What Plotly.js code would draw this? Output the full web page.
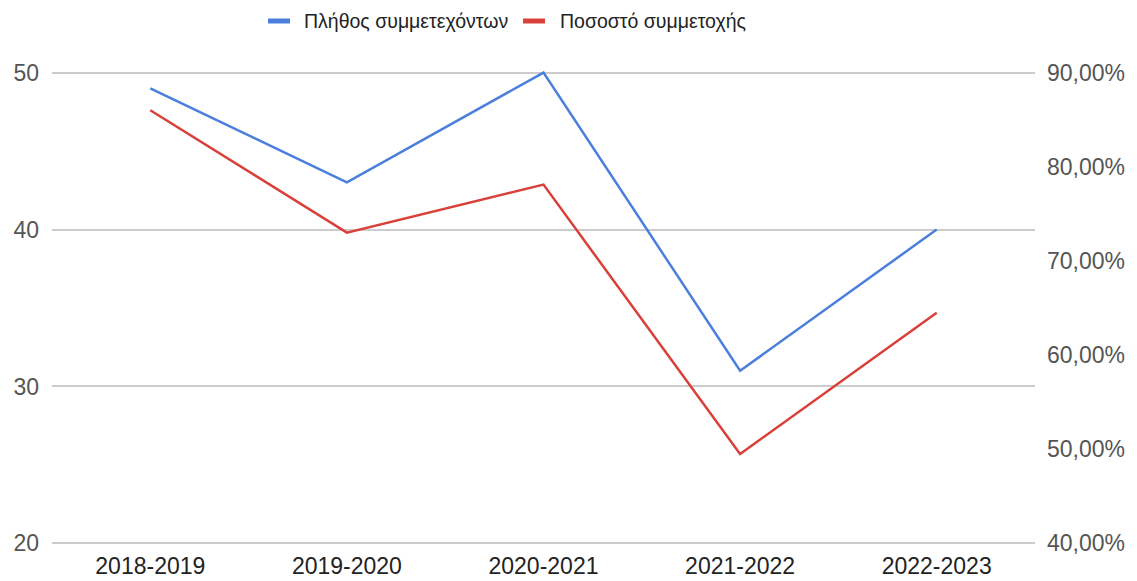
<!DOCTYPE html>
<html>
<head>
<meta charset="utf-8">
<script src="https://cdn.plot.ly/plotly-3.0.1.min.js"></script>
<style>html,body{margin:0;padding:0;background:#fff;}#chart{width:1137px;height:581px;}</style>
</head>
<body>
<div id="chart"></div>
<script>
const categories = ["2018-2019", "2019-2020", "2020-2021", "2021-2022", "2022-2023"];
const participants = [49, 43, 50, 31, 40];
const participationRate = [0.86, 0.73, 0.781, 0.495, 0.645];
const seriesNames = ["Πλήθος συμμετεχόντων", "Ποσοστό συμμετοχής"];
const seriesColors = ["#4a7fdc", "#d9403a"];
const leftTicks = [20, 30, 40, 50];
const rightTicks = [0.4, 0.5, 0.6, 0.7, 0.8, 0.9];

const font = "Liberation Sans, Arial, sans-serif";
const W = 1137, H = 581;
const M = {l: 52, r: 102, t: 71, b: 36};
const pw = W - M.l - M.r, ph = H - M.t - M.b;
const px = v => (v - M.l) / pw;      // page pixel -> paper x
const py = v => (H - M.b - v) / ph;  // page pixel -> paper y
const pad = 0.1; // small padding so edge gridlines are drawn

const traces = [
  {x: categories, y: participants, name: seriesNames[0], type: "scatter", mode: "lines",
   line: {color: seriesColors[0], width: 2.5}, yaxis: "y"},
  {x: categories, y: participationRate, name: seriesNames[1], type: "scatter", mode: "lines",
   line: {color: seriesColors[1], width: 2.5}, yaxis: "y2"}
];

// custom legend (short thick bars + labels)
const legendItems = [{bar: [268, 290], text: 302}, {bar: [523, 545], text: 558}];
const legendY = py(21);
const shapes = legendItems.map((it, i) => ({
  type: "line", xref: "paper", yref: "paper", x0: px(it.bar[0]), x1: px(it.bar[1]),
  y0: legendY, y1: legendY, line: {color: seriesColors[i], width: 5}
}));
const annotations = legendItems.map((it, i) => ({
  xref: "paper", yref: "paper", x: px(it.text), y: legendY, xanchor: "left", yanchor: "middle",
  text: seriesNames[i], showarrow: false, font: {size: 19.5, color: "#222", family: font}
}));

const layout = {
  width: W, height: H,
  paper_bgcolor: "#fff", plot_bgcolor: "#fff",
  margin: M,
  separators: ",.",
  font: {family: font, size: 22, color: "#333"},
  showlegend: false,
  shapes: shapes,
  annotations: annotations,
  xaxis: {range: [-0.5, 4.5], showgrid: false, zeroline: false, showline: false, ticks: "",
          tickfont: {size: 23, color: "#222"}, ticklabelstandoff: 5},
  yaxis: {range: [20 - pad, 50 + pad], tickvals: leftTicks, showgrid: true, gridcolor: "#cccccc", gridwidth: 2,
          zeroline: false, showline: false, ticks: "", tickfont: {size: 23, color: "#555"},
          ticklabelstandoff: 12},
  yaxis2: {range: [0.4 - pad / 60, 0.9 + pad / 60], tickvals: rightTicks, tickformat: ".2%", overlaying: "y", side: "right",
           showgrid: false, zeroline: false, showline: false, ticks: "",
           tickfont: {size: 23, color: "#555"}, ticklabelstandoff: 11}
};
Plotly.newPlot("chart", traces, layout, {displayModeBar: false, staticPlot: true});
</script>
</body>
</html>
